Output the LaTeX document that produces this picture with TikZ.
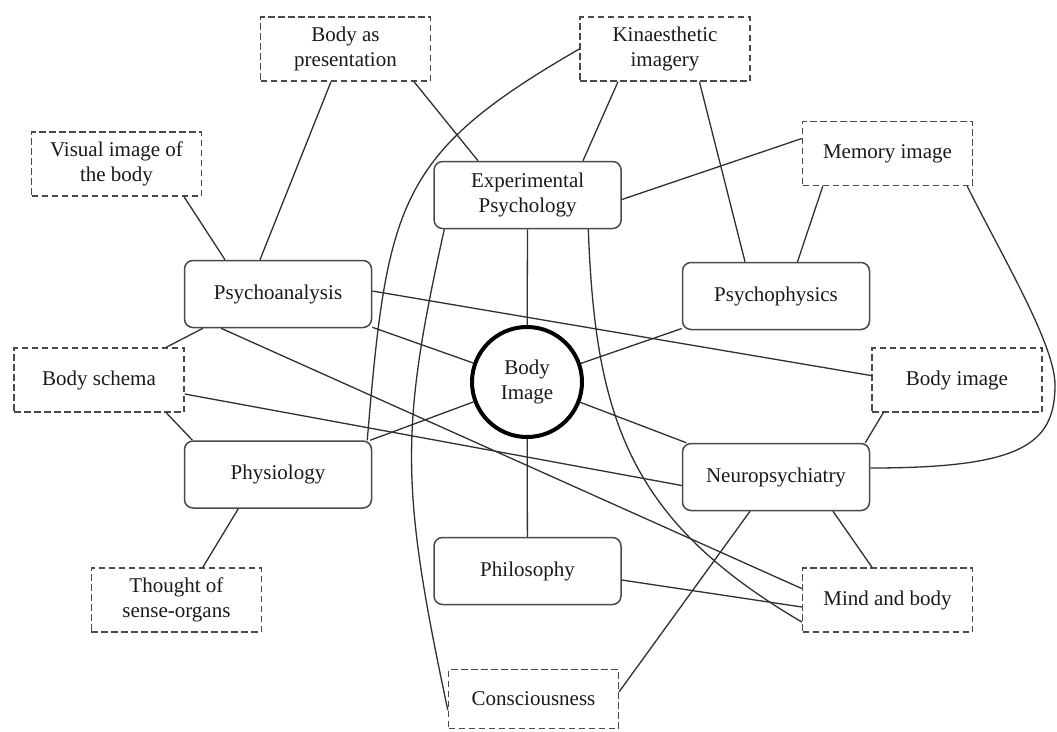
\documentclass[tikz,border=0pt]{standalone}
\usepackage{fontspec}
\setmainfont{Liberation Serif}
\definecolor{ln}{HTML}{303030}
\definecolor{bd}{HTML}{4A4A4A}
\definecolor{tx}{HTML}{1A1A1A}
\begin{document}
\begin{tikzpicture}[x=1pt,y=-1pt,
  every node/.style={font=\fontsize{21}{24.5}\selectfont, text=tx, align=center, inner sep=0pt},
  solidbox/.style={draw=bd, line width=1.5pt, rounded corners=8.5pt, minimum width=187pt, minimum height=67pt},
  dashbox/.style={draw=bd, line width=1.4pt, dash pattern=on 6.5pt off 3.5pt, minimum width=170pt, minimum height=64pt},
  hub/.style={draw=black, line width=4pt, circle, minimum size=110pt},
  link/.style={draw=ln, line width=1.3pt}]
\fill[white] (0,0) rectangle (1057,731);
\useasboundingbox (0,0) rectangle (1057,731);

% main nodes
\node[solidbox] (exp) at (527.6,195) {Experimental\\Psychology};
\node[solidbox] (psa) at (278,294) {Psychoanalysis};
\node[solidbox] (psp) at (776,296) {Psychophysics};
\node[solidbox] (phy) at (278,474.5) {Physiology};
\node[solidbox] (neu) at (776,477) {Neuropsychiatry};
\node[solidbox] (phi) at (527.5,571) {Philosophy};
\node[hub] (bi) at (527,382) {Body\\Image};

% dashed nodes
\node[dashbox] (bap) at (345.5,49) {Body as\\presentation};
\node[dashbox] (kin) at (665,49) {Kinaesthetic\\imagery};
\node[dashbox] (vis) at (116.5,164) {Visual image of\\the body};
\node[dashbox] (mem) at (887.5,153.5) {Memory image};
\node[dashbox] (bsc) at (99,380) {Body schema};
\node[dashbox] (bim) at (957,380) {Body image};
\node[dashbox] (tho) at (176.4,600) {Thought of\\sense-organs};
\node[dashbox] (mab) at (887.5,600) {Mind and body};
\node[dashbox, minimum height=59pt] (con) at (533.5,699) {Consciousness};

% connectors
\draw[link] ([xshift=67.5pt]vis.south) -- ([xshift=-53pt]psa.north);
\draw[link] ([xshift=-14.5pt]bap.south) -- ([xshift=-18pt]psa.north);
\draw[link] ([xshift=68.5pt]bap.south) -- ([xshift=-49.6pt]exp.north);
\draw[link] (kin.west) .. controls +(-182,105) and +(20,-238) .. ([xshift=-5pt]phy.north east);
\draw[link] ([yshift=3pt]psa.east) -- ([yshift=4.4pt]bim.west);
\draw[link] (psa) -- (bi);
\draw[link] ([xshift=-75pt]psa.south) -- ([xshift=-18.5pt]bsc.north east);
\draw[link] ([xshift=-57pt]psa.south) -- ([yshift=11.4pt]mab.west);
\draw[link] ([xshift=-47pt]kin.south) -- ([xshift=55.4pt]exp.north);
\draw[link] ([xshift=34.4pt]kin.south) -- ([xshift=-31pt]psp.north);
\draw[link] ([yshift=15pt]mem.west) -- ([yshift=-4.5pt]exp.east);
\draw[link] ([xshift=-64.7pt]mem.south) -- ([xshift=21.5pt]psp.north);
\coordinate (bend) at (1055,385);
\draw[link] ([xshift=-6pt]mem.south east) .. controls +(36,72) and +(0,-40) .. (bend)
   .. controls +(0,60) and +(150,0) .. ([yshift=9pt]neu.east);
\draw[link] ([xshift=-18.5pt]bsc.south east) -- ([xshift=8.7pt]phy.north west);
\draw[link] ([yshift=-14pt]bsc.east) -- ([yshift=-8.5pt]neu.west);
\draw[link] (phy) -- (bi);
\draw[link] ([xshift=-39.7pt]phy.south) -- ([xshift=26.4pt]tho.north);
\draw[link] ([xshift=-83.3pt]exp.south) .. controls +(-44,199) and +(-48,-225) .. ([yshift=-11pt]con.west);
\draw[link] ([xshift=60.7pt]exp.south) .. controls +(7,190) and +(-172.5,-101.4) .. ([yshift=-22pt]mab.west);
\draw[link] (bi) -- (neu);
\draw[link] (bi) -- (psp);
\draw[link] (exp) -- (bi);
\draw[link] (bi) -- (phi);
\draw[link] ([yshift=-9pt]phi.east) -- ([yshift=-7pt]mab.west);
\draw[link] ([xshift=-26pt]neu.south) -- ([yshift=7.3pt]con.east);
\draw[link] ([xshift=57pt]neu.south) -- ([xshift=-15.5pt]mab.north);
\draw[link] ([xshift=12pt]bim.south west) -- ([xshift=-5pt]neu.north east);
\end{tikzpicture}
\end{document}
